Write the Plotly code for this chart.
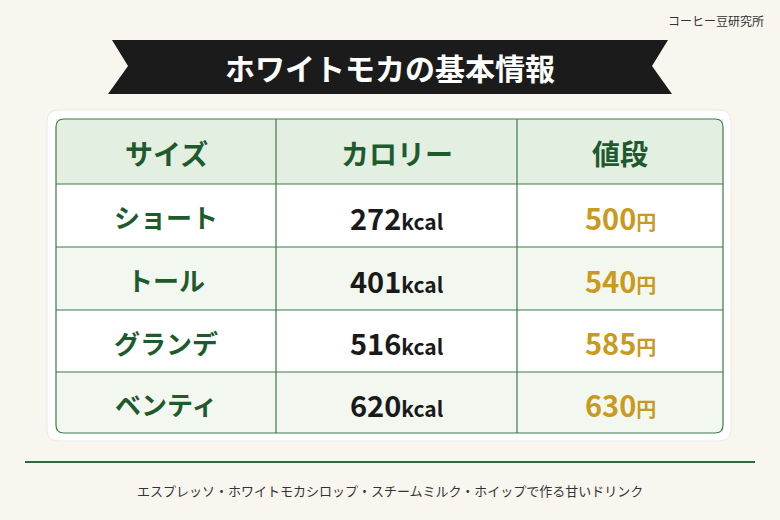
import plotly.graph_objects as go

title = "ホワイトモカの基本情報"
brand = "コーヒー豆研究所"
headers = ["サイズ", "カロリー", "値段"]
sizes = ["ショート", "トール", "グランデ", "ベンティ"]
kcal = [272, 401, 516, 620]
price = [500, 540, 585, 630]
caption = "エスプレッソ・ホワイトモカシロップ・スチームミルク・ホイップで作る甘いドリンク"

FONT = "Noto Sans CJK JP"
GREEN = "#1f5a2e"
LINE = "#3f7a4c"
GOLD = "#c99a1c"
BG = "#f8f6ef"


def rrect(x0, y0, x1, y1, r):
    return (f"M{x0+r},{y0} L{x1-r},{y0} Q{x1},{y0} {x1},{y0+r} L{x1},{y1-r} "
            f"Q{x1},{y1} {x1-r},{y1} L{x0+r},{y1} Q{x0},{y1} {x0},{y1-r} "
            f"L{x0},{y0+r} Q{x0},{y0} {x0+r},{y0} Z")


fig = go.Figure()
shapes = []
ann = []

# ribbon
shapes.append(dict(type="path", path="M112,40 L668,40 L652,66 L672,94 L108,94 L128,66 Z",
                   fillcolor="#1b1b1b", line=dict(width=0)))
ann.append(dict(x=390, y=67, text=f"<b>{title}</b>", font=dict(size=30, color="white", family=FONT)))
ann.append(dict(x=766, y=20, text=brand, xanchor="right", font=dict(size=12, color="#333", family=FONT)))

# card
shapes.append(dict(type="path", path=rrect(47, 110, 731, 441, 12), fillcolor="white",
                   line=dict(color="#ece9e0", width=1)))
cols = [56, 276, 517, 723]
rows = [119, 184, 247, 310, 372, 433]
fills = ["#e3efe1", "#ffffff", "#f2f7f0", "#ffffff", "#f2f7f0"]
for i in range(5):
    shapes.append(dict(type="rect", x0=56, x1=723, y0=rows[i], y1=rows[i + 1],
                       fillcolor=fills[i], line=dict(width=0), layer="above"))
for y in rows[1:-1]:
    shapes.append(dict(type="line", x0=56, x1=723, y0=y, y1=y, line=dict(color=LINE, width=1.2)))
for x in cols[1:-1]:
    shapes.append(dict(type="line", x0=x, x1=x, y0=119, y1=433, line=dict(color=LINE, width=1.2)))
shapes.append(dict(type="path", path=rrect(56, 119, 723, 433, 8), line=dict(color=LINE, width=1.2)))

cx = [(cols[j] + cols[j + 1]) / 2 for j in range(3)]
for j, h in enumerate(headers):
    ann.append(dict(x=cx[j], y=153, text=f"<b>{h}</b>", font=dict(size=28, color=GREEN, family=FONT)))
for i in range(4):
    yc = (rows[i + 1] + rows[i + 2]) / 2 + 1
    ann.append(dict(x=cx[0], y=yc, text=f"<b>{sizes[i]}</b>", font=dict(size=26, color=GREEN, family=FONT)))
    ann.append(dict(x=cx[1], y=yc, text=f"<b>{kcal[i]}<span style='font-size:21px'>kcal</span></b>",
                    font=dict(size=29, color="#1a1a1a", family=FONT)))
    ann.append(dict(x=cx[2], y=yc, text=f"<b>{price[i]}<span style='font-size:20px'>円</span></b>",
                    font=dict(size=29, color=GOLD, family=FONT)))

shapes.append(dict(type="line", x0=25, x1=755, y0=462, y1=462, line=dict(color="#2e6b3e", width=2)))
ann.append(dict(x=390, y=490, text=caption, font=dict(size=13, color="#333", family=FONT)))

for a in ann:
    a.update(xref="x", yref="y", showarrow=False)

fig.update_layout(width=780, height=520, margin=dict(l=0, r=0, t=0, b=0),
                  paper_bgcolor=BG, plot_bgcolor=BG,
                  shapes=shapes, annotations=ann, showlegend=False,
                  xaxis=dict(range=[0, 780], visible=False, fixedrange=True),
                  yaxis=dict(range=[520, 0], visible=False, fixedrange=True))
fig.write_html("out.html", config={"displayModeBar": False})

# drop the default page margin so the figure fills the window
with open("out.html", encoding="utf-8") as f:
    html = f.read()
html = html.replace("<body>", f'<body style="margin:0;background:{BG};overflow:hidden">', 1)
with open("out.html", "w", encoding="utf-8") as f:
    f.write(html)
